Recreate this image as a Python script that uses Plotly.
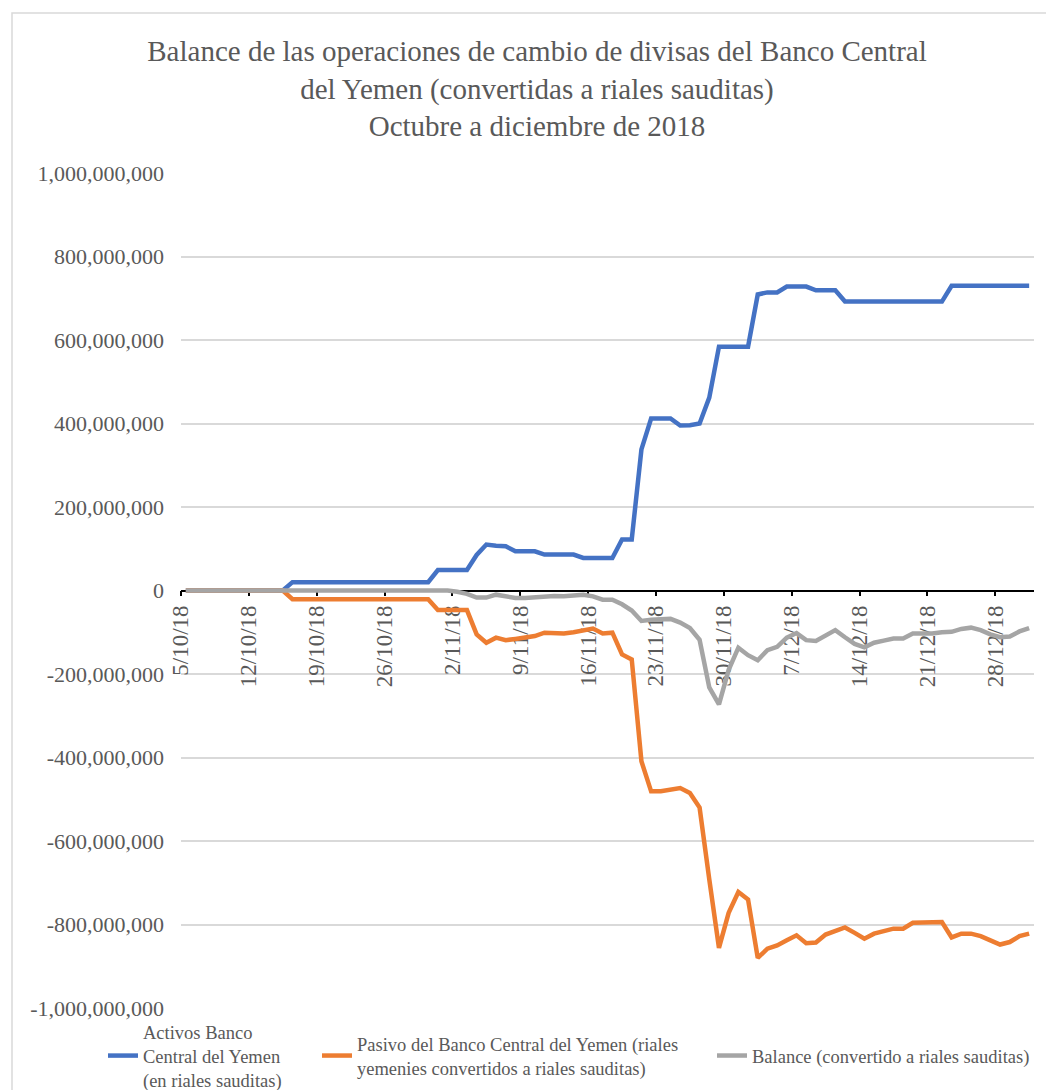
import pandas as pd
import plotly.graph_objects as go

# ---- data (values in millions of Saudi riyals) ----
dates = pd.date_range("2018-10-05", "2018-12-31", freq="D")

activos_M = (
    [0] * 11 + [20] * 15 + [49] * 4 +
    [85, 110, 107, 106, 94, 94, 94, 86, 86, 86, 86, 78, 78, 78, 78, 122, 122,
     338, 412, 412, 412, 395, 396, 400, 462, 584, 584, 584, 584,
     709, 714, 714, 728, 728, 728, 719, 719, 719] +
    [692] * 11 + [730] * 9
)

pasivo_M = (
    [0] * 11 + [-21] * 15 + [-47] * 4 +
    [-105, -125, -113, -119, -116, -113, -109, -101, -102, -103,
     -100, -95, -91, -103, -101, -153, -165, -409, -481, -481,
     -478, -473, -485, -520, -692, -856, -772, -722, -740, -880,
     -858, -850, -838, -826, -845, -843, -824, -815, -807, -820,
     -834, -822, -816, -810, -810, -796, -795, -795, -794, -831,
     -822, -822, -828, -838, -848, -842, -828, -822]
)

balance_M = (
    [0] * 28 +
    [-3, -8, -17, -17, -10, -15, -18, -18, -16, -13,
     -13, -14, -12, -10, -14, -22, -22, -33, -48, -73,
     -70, -68, -68, -77, -90, -118, -232, -273, -190, -137,
     -155, -167, -143, -135, -113, -102, -119, -121, -108, -95,
     -112, -128, -136, -125, -120, -115, -115, -103, -103, -103,
     -100, -99, -92, -89, -95, -105, -112, -110, -98, -90]
)

series_names = [
    "Activos Banco<br>Central del Yemen<br>(en riales sauditas)",
    "Pasivo del Banco Central del Yemen (riales<br>yemenies convertidos a riales sauditas)",
    "Balance (convertido a riales sauditas)",
]

y_tickvals = [1e9, 8e8, 6e8, 4e8, 2e8, 0, -2e8, -4e8, -6e8, -8e8, -1e9]
y_ticktext = ["1,000,000,000", "800,000,000", "600,000,000", "400,000,000",
              "200,000,000", "0", "-200,000,000", "-400,000,000",
              "-600,000,000", "-800,000,000", "-1,000,000,000"]

title_text = ("Balance de las operaciones de cambio de divisas del Banco Central<br>"
              "del Yemen (convertidas a riales sauditas)<br>"
              "Octubre a diciembre de 2018")

# ---- figure ----
colors = ["#4472C4", "#ED7D31", "#A5A5A5"]
legend_ids = ["legend", "legend2", "legend3"]
legend_x = [(103 - 181) / 853, (317 - 181) / 853, (712 - 181) / 853]
FONT = "Liberation Serif, Times New Roman, serif"
TXT = "#595959"

fig = go.Figure()
for name, vals, col, lg in zip(series_names, [activos_M, pasivo_M, balance_M], colors, legend_ids):
    fig.add_trace(go.Scatter(
        x=dates, y=[v * 1e6 for v in vals], mode="lines", name=name,
        line=dict(color=col, width=4.5), legend=lg,
        xperiod=86400000, xperiodalignment="middle",
    ))

legend_style = dict(orientation="h", xanchor="left", y=(1008 - 1056) / 835, yanchor="middle",
                    font=dict(size=18.5, color=TXT, family=FONT),
                    bgcolor="rgba(0,0,0,0)")

fig.update_layout(
    width=1046, height=1090,
    margin=dict(l=181, r=12, t=173, b=82, autoexpand=False),
    paper_bgcolor="white", plot_bgcolor="white",
    font=dict(family=FONT, color=TXT),
    title=dict(text=title_text, x=537 / 1046, xanchor="center", xref="container",
               y=1 - 61 / 1090, yanchor="top", yref="container",
               font=dict(size=29, color=TXT, family=FONT)),
    showlegend=True,
    legend=dict(x=legend_x[0], **legend_style),
    legend2=dict(x=legend_x[1], **legend_style),
    legend3=dict(x=legend_x[2], **legend_style),
    shapes=[dict(type="rect", xref="paper", yref="paper",
                 x0=(12 - 181) / 853, x1=1.05, y0=-0.2, y1=(1008 - 13) / 835,
                 line=dict(color="#D9D9D9", width=1.5), layer="below")],
)

fig.update_yaxes(
    range=[-1e9, 1e9], tickvals=y_tickvals, ticktext=y_ticktext,
    showgrid=True, gridcolor="#D9D9D9", gridwidth=1.5,
    zeroline=False, showline=False, ticks="", ticklabelstandoff=16,
    tickfont=dict(size=22, color=TXT, family=FONT),
)

fig.update_xaxes(
    range=["2018-10-05", "2019-01-01"],
    anchor="free", position=0.5,
    tick0="2018-10-05", dtick=7 * 86400000, tickformat="%-d/%-m/%y",
    tickangle=-90, ticks="outside", ticklen=5, tickcolor="black", tickwidth=1.5,
    showline=True, linecolor="black", linewidth=1.5,
    showgrid=False, zeroline=False, layer="below traces",
    tickfont=dict(size=23, color=TXT, family=FONT),
)

fig.write_html("out.html", config={"displayModeBar": False},
               post_script="document.body.style.margin='0';document.body.style.overflow='hidden';")
